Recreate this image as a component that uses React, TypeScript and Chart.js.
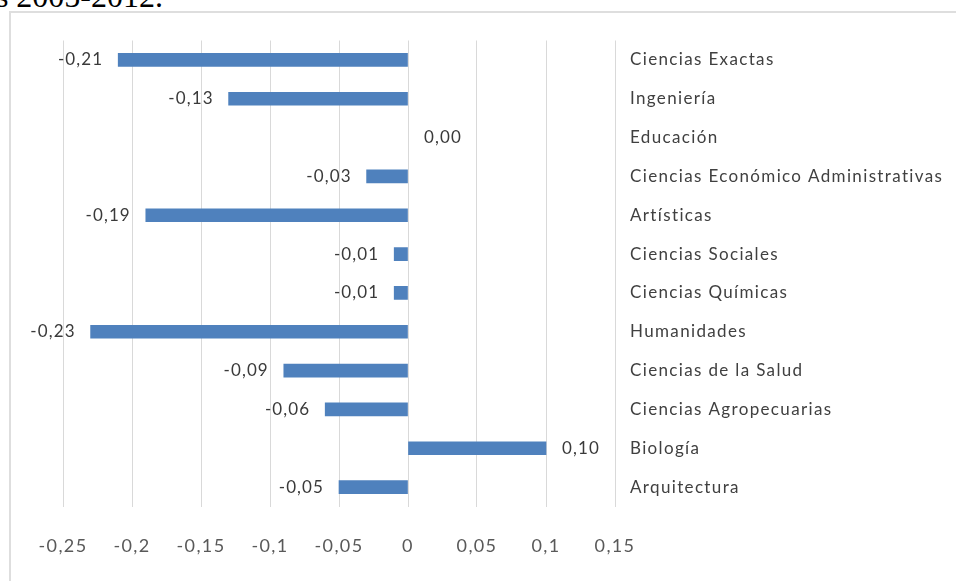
import React, { useEffect, useRef } from "react";
import { Chart, registerables } from "chart.js";

Chart.register(...registerables);

const categories = [
  "Ciencias Exactas",
  "Ingeniería",
  "Educación",
  "Ciencias Económico Administrativas",
  "Artísticas",
  "Ciencias Sociales",
  "Ciencias Químicas",
  "Humanidades",
  "Ciencias de la Salud",
  "Ciencias Agropecuarias",
  "Biología",
  "Arquitectura",
];

const values = [-0.21, -0.13, 0.0, -0.03, -0.19, -0.01, -0.01, -0.23, -0.09, -0.06, 0.1, -0.05];

const xMin = -0.25;
const xMax = 0.15;
const xStep = 0.05;

const titleText = "años 2005-2012.";

const FONT = "Lato, 'Open Sans', sans-serif";
const SPACING = "1.35px";

const fmtTick = (v: number) => String(Number(v.toFixed(2))).replace(".", ",");
const fmtLabel = (v: number) => v.toFixed(2).replace(".", ",");

const spacingPlugin = {
  id: "spacing",
  beforeUpdate(chart: any) {
    (chart.ctx as any).letterSpacing = SPACING;
  },
  beforeDraw(chart: any) {
    (chart.ctx as any).letterSpacing = SPACING;
  },
  afterDraw(chart: any) {
    (chart.ctx as any).letterSpacing = "0px";
  },
};

const labelPlugin = {
  id: "barLabels",
  afterDatasetsDraw(chart: any) {
    const ctx = chart.ctx;
    const meta = chart.getDatasetMeta(0);
    ctx.save();
    (ctx as any).letterSpacing = "1.1px";
    ctx.font = `17px ${FONT}`;
    ctx.fillStyle = "#3A3A3A";
    ctx.textBaseline = "middle";
    meta.data.forEach((el: any, i: number) => {
      const v = values[i];
      if (v < 0) {
        ctx.textAlign = "right";
        ctx.fillText(fmtLabel(v), el.x - 15, el.y);
      } else {
        ctx.textAlign = "left";
        ctx.fillText(fmtLabel(v), el.x + 16, el.y);
      }
    });
    ctx.restore();
  },
};

export default function App() {
  const ref = useRef<HTMLCanvasElement | null>(null);

  useEffect(() => {
    if (!ref.current) return;
    const chart = new Chart(ref.current, {
      type: "bar",
      data: {
        labels: categories,
        datasets: [
          {
            data: values,
            backgroundColor: values.map((v) => (v === 0 ? "rgba(0,0,0,0)" : "#4F81BD")),
            borderWidth: 0,
            barThickness: 13,
          },
        ],
      },
      plugins: [spacingPlugin, labelPlugin],
      options: {
        indexAxis: "y",
        animation: false,
        responsive: false,
        maintainAspectRatio: false,
        layout: { padding: { left: 63, top: 40.5, right: 0, bottom: 0 } },
        plugins: {
          legend: { display: false },
          tooltip: { enabled: false },
        },
        scales: {
          x: {
            type: "linear",
            min: xMin,
            max: xMax,
            position: "bottom",
            ticks: {
              stepSize: xStep,
              callback: (v: any) => fmtTick(Number(v)),
              color: "#595959",
              font: { family: FONT, size: 18 },
              padding: 29,
              maxRotation: 0,
              autoSkip: false,
            },
            grid: { color: "#D9D9D9", lineWidth: 1, drawTicks: false },
            border: { display: false },
            afterFit: (s: any) => {
              s.height = 74.5;
            },
          },
          y: {
            position: "right",
            ticks: {
              color: "#404040",
              font: { family: FONT, size: 17 },
              padding: 15,
            },
            grid: { display: false, drawTicks: false },
            border: { display: false },
            afterFit: (s: any) => {
              s.width = 341;
            },
          },
        },
      },
    });
    return () => chart.destroy();
  }, []);

  return (
    <div
      style={{
        position: "fixed",
        left: 0,
        top: 0,
        width: 956,
        height: 581,
        overflow: "hidden",
        background: "#fff",
      }}
    >
      <div
        style={{
          position: "absolute",
          right: 793,
          top: -20,
          fontFamily: "'Liberation Serif', 'Times New Roman', serif",
          fontSize: 32,
          lineHeight: "32px",
          whiteSpace: "nowrap",
          color: "#000",
        }}
      >
        {titleText}
      </div>
      <div
        style={{
          position: "absolute",
          left: 9,
          top: 11,
          width: 1000,
          height: 700,
          border: "2px solid #DEDEDE",
        }}
      />
      <canvas
        ref={ref}
        width={956}
        height={581}
        style={{ position: "absolute", left: 0, top: 0, width: 956, height: 581 }}
      />
    </div>
  );
}
